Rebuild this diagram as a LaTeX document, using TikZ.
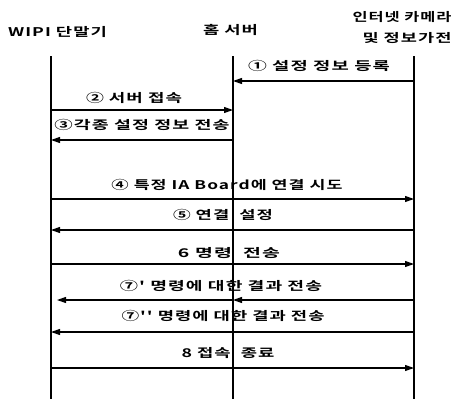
\documentclass[tikz,border=0pt]{standalone}
\usepackage{fontspec}
\usepackage{graphicx}
\newfontfamily\kr{Noto Sans CJK KR Bold}[LetterSpace=6]
\usetikzlibrary{arrows.meta}
\newsavebox\fitbox
\newcommand\fitx[2]{\sbox\fitbox{#2}\pgfmathsetmacro\fitsx{#1/\wd\fitbox}\scalebox{\fitsx}[1]{\usebox\fitbox}}
\begin{document}
\begin{tikzpicture}[x=1pt,y=-1pt,
  life/.style={line width=1.1pt},
  msg/.style={line width=1.1pt,-{Triangle[length=9pt,width=6pt]}},
  lbl/.style={font=\kr\fontsize{12}{13}\selectfont,inner sep=0pt},
  head/.style={font=\kr\fontsize{12}{13}\selectfont,inner sep=0pt,align=center}]
\useasboundingbox (0,0) rectangle (459,399);
% headers
\node[head] (hw) at (57.5,32) {\fitx{99}{WIPI 단말기}};
\node[head] (hs) at (230.5,30) {\fitx{55}{홈 서버}};
\node[head] (hc1) at (402,17) {\fitx{99}{인터넷 카메라}};
\node[head] (hc2) at (407,38) {\fitx{89}{및 정보가전}};
% lifelines
\coordinate (wt) at (51,56);  \coordinate (wb) at (51,399);
\coordinate (st) at (233,56); \coordinate (sb) at (233,399);
\coordinate (ct) at (414,56); \coordinate (cb) at (414,399);
\draw[life] (wt) -- (wb);
\draw[life] (st) -- (sb);
\draw[life] (ct) -- (cb);
% message end points
\coordinate (w2) at (51,110); \coordinate (s2) at (233,110);
\coordinate (s1) at (233,81);  \coordinate (c1) at (414,81);
\coordinate (w3) at (51,140); \coordinate (s3) at (233,140);
\coordinate (w4) at (51,199); \coordinate (c4) at (414,199);
\coordinate (w5) at (51,230); \coordinate (c5) at (414,230);
\coordinate (w6) at (51,264); \coordinate (c6) at (414,264);
\coordinate (w7) at (57,300); \coordinate (s7) at (233,300); \coordinate (c7) at (414,300);
\coordinate (w8) at (51,332); \coordinate (c8) at (414,332);
\coordinate (w9) at (51,368); \coordinate (c9) at (414,368);
% messages
\draw[msg] (c1) -- (s1);
\draw[msg] (w2) -- (s2);
\draw[msg] (s3) -- (w3);
\draw[msg] (w4) -- (c4);
\draw[msg] (c5) -- (w5);
\draw[msg] (w6) -- (c6);
\draw[msg] (s7) -- (w7);
\draw[msg] (c7) -- (s7);
\draw[msg] (c8) -- (w8);
\draw[msg] (w9) -- (c9);
% labels
\node[lbl] (l1) at (319,66) {\fitx{142}{① 설정 정보 등록}};
\node[lbl] (l2) at (134,98) {\fitx{96}{② 서버 접속}};
\node[lbl] (l3) at (142,125) {\fitx{175}{③각종 설정 정보 전송}};
\node[lbl] (l4) at (227,185) {\fitx{231}{④ 특정 IA Board에 연결 시도}};
\node[lbl] (l5) at (223,215) {\fitx{100}{⑤ 연결 \ 설정}};
\node[lbl] (l6) at (229,253) {\fitx{102}{6 명령 \ 전송}};
\node[lbl] (l7) at (221,286) {\fitx{202}{⑦' 명령에 대한 결과 전송}};
\node[lbl] (l8) at (223,316) {\fitx{203}{⑦'' 명령에 대한 결과 전송}};
\node[lbl] (l9) at (228,353) {\fitx{93}{8 접속 \ 종료}};
\end{tikzpicture}
\end{document}
